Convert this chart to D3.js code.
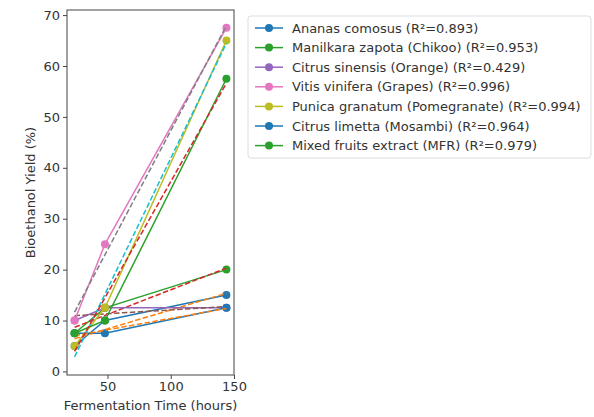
<!DOCTYPE html>
<html>
<head>
<meta charset="utf-8">
<script src="https://cdn.jsdelivr.net/npm/d3@7"></script>
<style>
  body { margin: 0; background: #fff; }
  text { font-family: "DejaVu Sans", sans-serif; fill: #333; }
</style>
</head>
<body>
<div id="container"></div>
<script>
    // data
    const times = [24, 48, 144];
    const names = [
        "Ananas comosus",
        "Manilkara zapota (Chikoo)",
        "Citrus sinensis (Orange)",
        "Vitis vinifera (Grapes)",
        "Punica granatum (Pomegranate)",
        "Citrus limetta (Mosambi)",
        "Mixed fruits extract (MFR)"
    ];
    const yields = [
        [5, 10, 15],
        [7.5, 12.5, 20],
        [10, 12.5, 12.5],
        [10, 25, 67.5],
        [5, 12.5, 65],
        [7.5, 7.5, 12.5],
        [7.5, 10, 57.5]
    ];
    const r2 = ["0.893", "0.953", "0.429", "0.996", "0.994", "0.964", "0.979"];
    const xTicks = [50, 100, 150];
    const yTicks = [0, 10, 20, 30, 40, 50, 60, 70];

    const width = 594;
    const height = 417;
    const marginTop = 10;
    const marginLeft = 67;
    const plotRight = 234;
    const plotBottom = 375;
    const fontSize = 13;

    const colors = d3.schemeCategory10;

    const svg = d3.create("svg")
        .attr("width", width)
        .attr("height", height);

    const x = d3.scaleLinear().domain([18, 150]).range([marginLeft, plotRight]);
    const y = d3.scaleLinear().domain([-0.7, 71]).range([plotBottom, marginTop]);

    // least squares fit, as in the original plot
    function fit(xs, ys) {
        const mx = d3.mean(xs), my = d3.mean(ys);
        let sxy = 0, sxx = 0;
        xs.forEach((v, i) => { sxy += (v - mx) * (ys[i] - my); sxx += (v - mx) * (v - mx); });
        const b = sxy / sxx;
        const a = my - b * mx;
        return xs.map(v => a + b * v);
    }

    const line = d3.line()
        .x(d => x(d[0]))
        .y(d => y(d[1]));

    const plot = svg.append("g");

    yields.forEach((ys, i) => {
        const pts = times.map((t, j) => [t, ys[j]]);
        const c = colors[(2 * i) % 10];
        plot.append("path")
            .attr("d", line(pts))
            .attr("fill", "none")
            .attr("stroke", c)
            .attr("stroke-width", 1.5);
        plot.selectAll(null)
            .data(pts)
            .join("circle")
            .attr("cx", d => x(d[0]))
            .attr("cy", d => y(d[1]))
            .attr("r", 4)
            .attr("fill", c);
        // regression line
        const f = fit(times, ys);
        plot.append("path")
            .attr("d", line(times.map((t, j) => [t, f[j]])))
            .attr("fill", "none")
            .attr("stroke", colors[(2 * i + 1) % 10])
            .attr("stroke-width", 1.5)
            .attr("stroke-dasharray", "5.5,2.4");
    });

    // axes
    const xAxis = svg.append("g")
        .attr("transform", `translate(0,${plotBottom})`)
        .call(d3.axisBottom(x).tickValues(xTicks).tickSize(4).tickPadding(3));
    const yAxis = svg.append("g")
        .attr("transform", `translate(${marginLeft},0)`)
        .call(d3.axisLeft(y).tickValues(yTicks).tickSize(4).tickPadding(3));
    [xAxis, yAxis].forEach(g => {
        g.select(".domain").remove();
        g.selectAll("line").attr("stroke", "#444");
        g.selectAll("text").attr("font-size", fontSize).attr("fill", "#333")
            .attr("font-family", "DejaVu Sans, sans-serif");
    });

    // frame
    svg.append("rect")
        .attr("x", marginLeft)
        .attr("y", marginTop)
        .attr("width", plotRight - marginLeft)
        .attr("height", plotBottom - marginTop)
        .attr("fill", "none")
        .attr("stroke", "#444")
        .attr("stroke-width", 1);

    svg.append("text")
        .attr("x", (marginLeft + plotRight) / 2)
        .attr("y", 410)
        .attr("text-anchor", "middle")
        .attr("font-size", fontSize)
        .text("Fermentation Time (hours)");

    svg.append("text")
        .attr("transform", `translate(35,${(marginTop + plotBottom) / 2}) rotate(-90)`)
        .attr("text-anchor", "middle")
        .attr("font-size", fontSize)
        .text("Bioethanol Yield (%)");

    // legend
    const legend = svg.append("g").attr("transform", "translate(248,16)");
    legend.append("rect")
        .attr("width", 343)
        .attr("height", 142)
        .attr("rx", 3)
        .attr("fill", "#fff")
        .attr("stroke", "#ddd");
    names.forEach((n, i) => {
        const row = legend.append("g").attr("transform", `translate(0,${12 + i * 19.6})`);
        const c = colors[(2 * i) % 10];
        row.append("line")
            .attr("x1", 7).attr("x2", 35)
            .attr("stroke", c).attr("stroke-width", 1.5);
        row.append("circle").attr("cx", 21).attr("r", 4).attr("fill", c);
        row.append("text")
            .attr("x", 44)
            .attr("dy", "0.35em")
            .attr("font-size", fontSize)
            .text(`${n} (R²=${r2[i]})`);
    });

    container.append(svg.node());
</script>
</body>
</html>
